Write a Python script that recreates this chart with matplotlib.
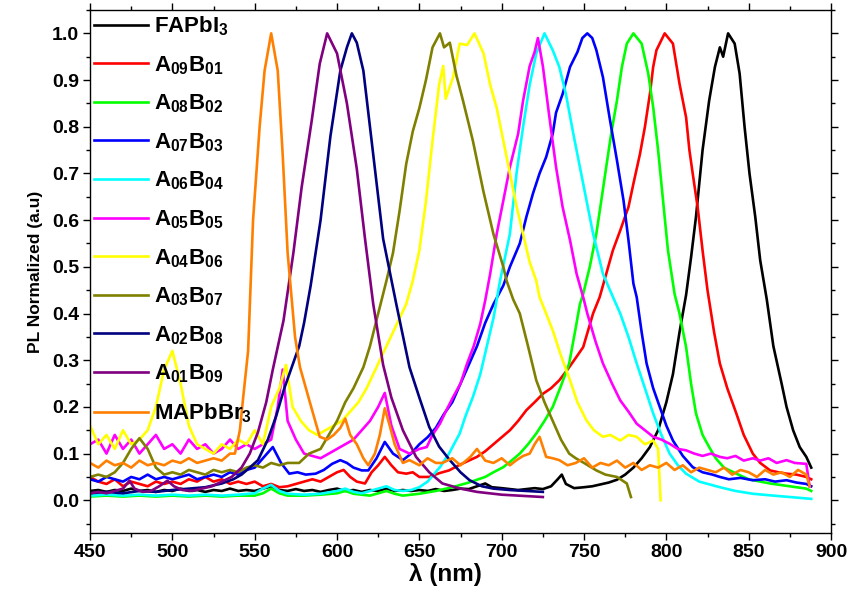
import matplotlib
matplotlib.use('Agg')
import matplotlib.pyplot as plt
from matplotlib.ticker import MultipleLocator

plt.rcParams['font.family'] = ['Liberation Sans', 'DejaVu Sans']
plt.rcParams['font.weight'] = 'bold'
plt.rcParams['mathtext.default'] = 'regular'

# (wavelength nm, normalized PL)
fapbi3 = [(450, .02), (455, .022), (460, .018), (465, .022), (470, .02), (475, .025), (480, .02), (485, .022),
          (490, .018), (495, .022), (500, .02), (505, .025), (510, .02), (515, .022), (520, .018), (525, .022),
          (530, .02), (535, .025), (540, .02), (545, .022), (550, .02), (555, .025), (560, .03), (565, .022),
          (570, .02), (575, .024), (580, .02), (585, .022), (590, .018), (595, .022), (600, .025), (605, .02),
          (610, .022), (615, .018), (620, .022), (625, .02), (630, .025), (635, .02), (640, .022), (645, .02),
          (650, .022), (655, .02), (660, .024), (665, .02), (670, .022), (675, .025), (680, .024), (685, .03),
          (690, .036), (694, .028), (700, .026), (705, .024), (710, .022), (715, .024), (720, .026), (725, .024),
          (730, .03), (734, .045), (736.5, .055), (739, .035), (744, .026), (750, .028), (755, .03), (760, .034),
          (765, .038), (770, .044), (775, .055), (780, .07), (785, .09), (790, .114), (795, .15), (800, .21),
          (804, .27), (808, .36), (812, .44), (815, .52), (818, .607), (822, .75), (826, .856), (829.5, .928),
          (832.5, .97), (834.5, .95), (837.5, 1.0), (841.5, .978), (844.5, .914), (847.5, .80), (850.5, .70),
          (854, .607), (857, .514), (861, .43), (865, .33), (870, .25), (873, .20), (877, .15), (881, .114),
          (885, .093), (888, .07)]

a09b01 = [(450, .05), (455, .04), (460, .035), (465, .045), (470, .03), (475, .04), (480, .035), (485, .03),
          (490, .04), (495, .035), (500, .04), (505, .035), (510, .045), (515, .04), (520, .05), (525, .04),
          (530, .045), (535, .035), (540, .04), (545, .035), (550, .04), (555, .03), (560, .035), (565, .028),
          (570, .03), (575, .035), (580, .04), (585, .045), (590, .04), (595, .05), (600, .06), (604, .065),
          (608, .05), (612, .04), (617, .036), (621, .06), (625, .075), (629, .093), (633, .075), (637, .06),
          (642, .057), (646, .06), (650, .05), (656, .05), (662, .058), (668, .064), (674, .075), (680, .085),
          (685, .093), (690, .105), (695, .12), (700, .135), (705, .15), (710, .17), (715, .193), (720, .21),
          (725, .228), (730, .24), (735, .257), (740, .28), (744, .30), (749.5, .328), (755.5, .40), (759.5, .435),
          (763.5, .485), (767.5, .535), (772, .578), (777, .628), (780, .678), (784, .742), (787, .80), (790, .87),
          (792, .928), (794, .964), (799, 1.0), (804, .978), (808, .892), (812, .82), (814, .75), (816, .70),
          (819, .628), (822, .535), (825, .45), (829, .36), (832.5, .293), (837, .24), (842.5, .186), (847, .14),
          (852.5, .10), (857, .08), (863, .064), (868, .06), (873, .057), (879, .055), (885, .05), (888, .045)]

a08b02 = [(450, .008), (460, .01), (470, .008), (480, .01), (490, .008), (500, .01), (510, .008), (520, .01),
          (530, .008), (540, .01), (550, .01), (555, .015), (560, .025), (565, .015), (570, .01), (580, .01),
          (590, .012), (600, .015), (605, .02), (610, .014), (620, .01), (625, .015), (630, .02), (635, .014),
          (640, .01), (645, .012), (650, .014), (660, .02), (670, .028), (680, .038), (690, .05), (695, .06),
          (701, .071), (706, .085), (711, .10), (716, .12), (721, .143), (726, .17), (731, .20), (736, .245),
          (741, .293), (745, .37), (747.5, .42), (749.5, .442), (753.5, .50), (757.5, .571), (760.5, .642),
          (763.5, .714), (766.5, .785), (770, .856), (773, .928), (776, .978), (780, 1.0), (785, .978),
          (789, .914), (792, .842), (795, .75), (798, .642), (801, .535), (805, .442), (808, .40), (812, .328),
          (815, .25), (818, .186), (822, .14), (826, .114), (830, .09), (835, .07), (842.5, .057), (850, .045),
          (863, .036), (875, .03), (885, .025), (888, .02)]

a07b03 = [(450, .045), (455, .04), (460, .05), (465, .045), (470, .04), (475, .05), (480, .045), (485, .055),
          (490, .045), (495, .05), (500, .045), (505, .05), (510, .055), (515, .045), (520, .05), (525, .055),
          (530, .05), (535, .06), (540, .055), (545, .065), (550, .07), (555, .09), (561, .114), (566, .08),
          (571, .057), (576, .06), (581, .055), (587, .057), (592, .065), (597, .078), (602, .086), (606, .08),
          (610, .07), (615, .064), (619, .064), (624, .09), (629, .125), (634, .1), (640, .086), (645, .1),
          (650, .12), (655, .135), (660, .155), (665, .185), (670, .21), (675, .25), (680, .29), (685, .33),
          (690, .38), (695, .42), (701, .46), (705, .50), (711, .55), (715, .607), (719, .657), (723, .70),
          (727, .735), (731, .785), (733, .83), (737, .87), (741.5, .928), (746, .96), (749, .99), (752, 1.0),
          (755, .99), (757.5, .964), (761.5, .906), (765.5, .82), (770, .728), (774, .642), (777, .557),
          (780, .464), (782, .435), (785, .36), (788, .293), (792, .24), (796, .20), (800, .16), (804, .128),
          (810, .095), (816, .071), (822, .06), (828, .055), (832.5, .05), (838, .045), (845, .048),
          (852.5, .043), (860, .045), (866, .04), (873, .043), (879, .038), (885, .035), (888, .03)]

a06b04 = [(450, .01), (460, .012), (470, .01), (480, .012), (490, .01), (500, .012), (510, .01), (520, .012),
          (530, .01), (540, .012), (550, .015), (555, .025), (560, .033), (565, .02), (570, .014), (580, .012),
          (590, .014), (600, .02), (605, .025), (610, .018), (615, .015), (620, .02), (625, .025), (630, .03),
          (635, .022), (640, .02), (645, .022), (650, .028), (655, .04), (662.5, .071), (668, .1), (674.5, .143),
          (678, .18), (682.5, .221), (687, .27), (691, .33), (695, .39), (699, .47), (702, .52), (705, .571),
          (709, .70), (713, .80), (717, .89), (721, .957), (726, 1.0), (731, .964), (735, .928), (739, .87),
          (743.5, .785), (749.5, .678), (755.5, .571), (761.5, .485), (767, .44), (772, .40), (777, .35),
          (782, .293), (787, .24), (792, .186), (797, .14), (802, .10), (807, .075), (812, .057), (820, .04),
          (832.5, .028), (842, .02), (852.5, .014), (865, .01), (875, .007), (885, .004), (888, .003)]

a05b05 = [(450, .12), (455, .13), (460, .1), (465, .14), (470, .11), (475, .13), (480, .1), (485, .12),
          (490, .14), (495, .11), (500, .12), (505, .1), (510, .13), (515, .11), (520, .12), (525, .1),
          (530, .11), (535, .13), (540, .11), (545, .12), (550, .11), (555, .12), (560, .13), (564, .2),
          (567, .28), (570, .17), (575, .13), (580, .1), (585, .095), (590, .09), (595, .1), (600, .11),
          (605, .12), (610, .13), (615, .15), (620, .17), (625, .2), (629, .23), (633, .16), (638, .11),
          (644, .1), (650, .11), (654.5, .114), (658, .14), (662.5, .164), (666, .19), (670.5, .221), (675, .25),
          (679, .293), (683, .33), (687, .378), (690, .428), (693, .485), (697, .571), (701, .642), (705, .714),
          (710, .785), (713, .856), (717, .93), (720, .96), (722, .99), (725, .93), (729, .82), (733, .714),
          (737, .628), (741.5, .557), (745.5, .485), (749.5, .435), (752, .40), (757, .34), (761.5, .293),
          (767, .25), (772, .214), (777, .19), (782, .164), (787, .15), (792, .136), (797, .13), (802, .121),
          (807, .11), (812, .107), (817, .1), (822, .095), (827, .1), (832.5, .093), (837, .09), (842, .095),
          (847, .085), (852.5, .09), (857, .085), (862, .09), (867, .08), (873, .086), (878, .08), (885, .078),
          (887, .03)]

a04b06 = [(450, .16), (455, .12), (460, .14), (465, .11), (470, .15), (475, .12), (480, .13), (485, .15),
          (490, .2), (495, .28), (500, .32), (505, .25), (510, .16), (515, .12), (520, .11), (525, .1),
          (530, .12), (535, .11), (540, .13), (545, .12), (550, .15), (555, .12), (560, .2), (565, .24),
          (569, .29), (573, .2), (578, .17), (583, .15), (588, .14), (593, .15), (598, .16), (603, .17),
          (608, .19), (613, .21), (618, .24), (622, .27), (626, .30), (630, .33), (634, .36), (638, .39),
          (642, .42), (646, .47), (650, .535), (654, .64), (658, .77), (662, .89), (664.5, .93), (666, .86),
          (670.5, .906), (674.5, .978), (679, .975), (683.5, 1.0), (689, .957), (693, .89), (697, .84),
          (701, .77), (705, .70), (709, .63), (713, .57), (717, .51), (721, .47), (723, .435), (727, .40),
          (731, .364), (736, .31), (741.5, .257), (746, .21), (751.5, .171), (756, .15), (761.5, .136),
          (766, .14), (772, .128), (777, .14), (782, .136), (787, .12), (792, .128), (795, .11), (796.5, .0)]

a03b07 = [(450, .05), (455, .055), (460, .05), (465, .06), (470, .08), (475, .11), (480, .133), (485, .11),
          (490, .07), (495, .055), (500, .06), (505, .055), (510, .065), (515, .06), (520, .055), (525, .065),
          (530, .06), (535, .065), (540, .06), (545, .07), (550, .075), (555, .07), (560, .08), (565, .075),
          (570, .08), (577, .08), (583, .1), (590, .11), (595, .14), (600, .17), (605, .21), (610, .24),
          (616, .285), (620, .33), (625, .4), (630, .47), (634, .53), (638, .62), (642, .72), (646, .79),
          (650, .84), (654, .9), (658, .97), (662.5, 1.0), (665, .97), (668.5, .98), (672.5, .91), (676.5, .856),
          (682.5, .77), (689, .66), (695, .57), (701, .50), (703, .47), (707, .43), (711, .40), (716, .33),
          (721, .257), (726, .21), (731, .17), (736, .13), (741, .10), (745, .09), (750, .08), (757.5, .064),
          (763, .055), (770, .05), (776, .036), (778.5, .007)]

a02b08 = [(450, .015), (460, .018), (470, .015), (480, .02), (490, .018), (500, .022), (510, .025), (520, .028),
          (530, .036), (537, .045), (542, .055), (547, .07), (552, .086), (558, .13), (563, .18), (568, .24),
          (573, .29), (577, .33), (580, .38), (584, .46), (590, .60), (596, .78), (602, .92), (606, .97),
          (609, 1.0), (612, .98), (616, .92), (622, .74), (628, .56), (636, .42), (644, .285), (650, .22),
          (656, .157), (662, .115), (668.5, .086), (675, .06), (680.5, .043), (688, .03), (695, .025),
          (705, .022), (715, .02), (725, .018)]

a01b09 = [(450, .015), (455, .018), (460, .015), (465, .02), (470, .025), (474, .042), (477, .025), (482, .018),
          (487, .02), (492, .03), (497, .042), (501, .03), (506, .022), (512, .02), (518, .025), (524, .03),
          (530, .04), (536, .05), (542, .07), (547, .1), (552, .146), (557, .21), (561, .28), (567.5, .385),
          (573.5, .53), (578.5, .67), (584.5, .81), (589.5, .935), (594, 1.0), (600, .957), (606, .85),
          (612, .71), (617, .56), (622, .42), (628, .29), (633, .22), (640, .15), (648, .093), (656, .06),
          (664, .036), (675, .025), (685, .018), (700, .012), (715, .009), (725, .007)]

mapbbr3 = [(450, .08), (455, .07), (460, .085), (465, .075), (470, .08), (475, .07), (480, .085), (485, .075),
           (490, .08), (495, .075), (500, .085), (505, .08), (510, .09), (515, .08), (520, .085), (525, .09),
           (530, .085), (535, .1), (538, .1), (541, .15), (543, .22), (546, .32), (549, .60), (553, .80),
           (556, .92), (560, 1.0), (564, .92), (567, .74), (570, .53), (574.5, .35), (577.5, .285), (583.5, .21),
           (589.5, .136), (594, .13), (598, .14), (602, .155), (605, .175), (608, .14), (612, .12), (616, .09),
           (619, .075), (623, .1), (626, .14), (629, .197), (632, .16), (635, .12), (640, .08), (644, .086),
           (650, .075), (655, .09), (660, .08), (664, .08), (670, .09), (675, .075), (681, .093), (685, .11),
           (690, .085), (695, .08), (700, .09), (705, .075), (709, .086), (713, .095), (717, .1), (720, .12),
           (723, .136), (727, .093), (731, .09), (735, .086), (740, .075), (745, .08), (750, .09), (755, .07),
           (760, .08), (765, .075), (770, .085), (775, .07), (780, .08), (785, .065), (790, .075), (795, .07),
           (800, .08), (805, .065), (810, .075), (815, .06), (820, .07), (825, .065), (830, .06), (835, .07),
           (840, .055), (845, .065), (850, .06), (855, .05), (860, .065), (865, .055), (870, .06), (875, .05),
           (880, .065), (885, .055), (887, .03)]

series = [fapbi3, a09b01, a08b02, a07b03, a06b04, a05b05, a04b06, a03b07, a02b08, a01b09, mapbbr3]
labels = ['FAPbI$_3$', 'A$_{09}$B$_{01}$', 'A$_{08}$B$_{02}$', 'A$_{07}$B$_{03}$', 'A$_{06}$B$_{04}$',
          'A$_{05}$B$_{05}$', 'A$_{04}$B$_{06}$', 'A$_{03}$B$_{07}$', 'A$_{02}$B$_{08}$', 'A$_{01}$B$_{09}$',
          'MAPbBr$_3$']
colors = ['#000000', '#FF0000', '#00FF00', '#0000FF', '#00FFFF', '#FF00FF', '#FFFF00', '#808000',
          '#000080', '#800080', '#FF8000']

fig = plt.figure(figsize=(8.51, 5.92), dpi=100)
ax = fig.add_axes([0.1058, 0.0997, 0.8707, 0.8834])

for data, lab, col in zip(series, labels, colors):
    nm, pl = zip(*data)
    ax.plot(nm, pl, color=col, lw=1.9, label=lab)

ax.set_xlim(450, 900)
ax.set_ylim(-0.07, 1.05)
ax.xaxis.set_major_locator(MultipleLocator(50))
ax.xaxis.set_minor_locator(MultipleLocator(25))
ax.yaxis.set_major_locator(MultipleLocator(0.1))
ax.yaxis.set_minor_locator(MultipleLocator(0.05))
ax.yaxis.set_major_formatter(plt.FormatStrFormatter('%.1f'))
ax.tick_params(which='both', direction='out', top=True, right=True, width=1.0)
ax.tick_params(which='major', length=5, labelsize=14, pad=3)
ax.tick_params(which='minor', length=3)
for s in ax.spines.values():
    s.set_linewidth(1.0)

ax.set_xlabel('λ (nm)', fontsize=17.5, fontweight='bold')
ax.xaxis.set_label_coords(0.479, -0.080, transform=ax.transAxes)
ax.xaxis.label.set_va('center')
ax.set_ylabel('PL Normalized (a.u)', fontsize=12.5, fontweight='bold', labelpad=6)

ax.legend(loc='upper left', frameon=False, handlelength=2.4, handletextpad=0.3,
          labelspacing=0.72, borderaxespad=0.1, borderpad=0.1,
          prop={'weight': 'bold', 'size': 16})

fig.savefig('out.png', dpi=100)
